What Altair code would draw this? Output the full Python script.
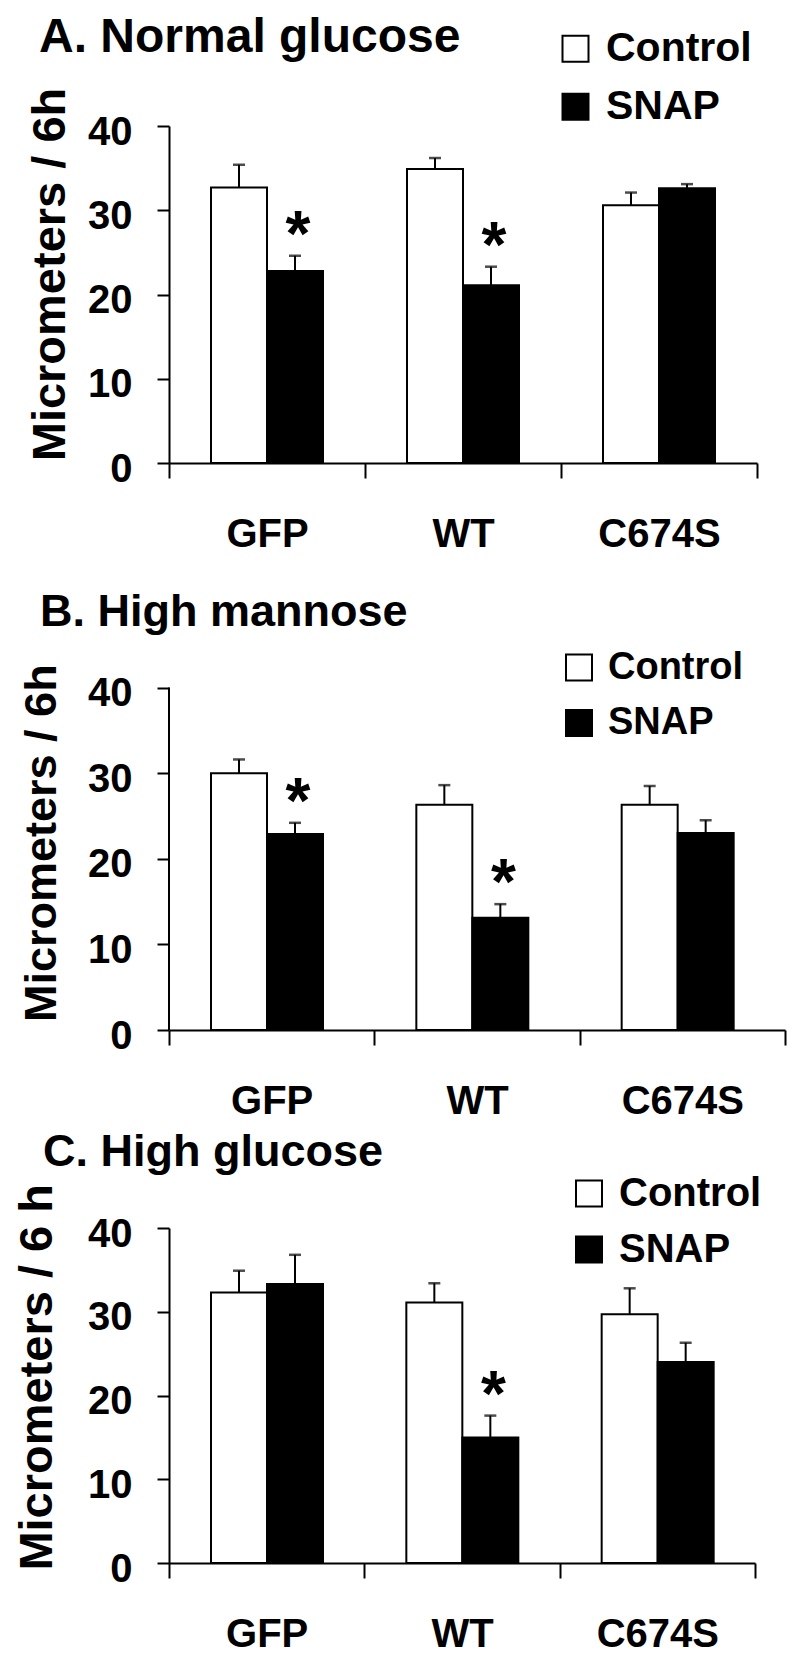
import altair as alt
import pandas as pd

FONT = "Liberation Sans"

groups = ["GFP", "WT", "C674S"]
treatments = ["Control", "SNAP"]
y_ticks = [0, 10, 20, 30, 40]

# Panel A: Normal glucose
a_control = [32.7, 34.9, 30.6]
a_control_err = [2.7, 1.3, 1.5]
a_snap = [22.8, 21.1, 32.6]
a_snap_err = [1.8, 2.2, 0.5]
a_star = ["GFP", "WT"]

# Panel B: High mannose
b_control = [30.0, 26.3, 26.3]
b_control_err = [1.6, 2.3, 2.2]
b_snap = [22.9, 13.1, 23.0]
b_snap_err = [1.3, 1.6, 1.5]
b_star = ["GFP", "WT"]

# Panel C: High glucose
c_control = [32.3, 31.1, 29.7]
c_control_err = [2.6, 2.3, 3.1]
c_snap = [33.3, 15.0, 24.0]
c_snap_err = [3.5, 2.6, 2.3]
c_star = ["WT"]


def panel(title, ytitle, ctrl, ctrl_err, snap, snap_err, stars,
          width, height, ymax, title_size, title_x, title_y,
          ytitle_size, ytitle_x, ytitle_y,
          leg_size, leg_x, leg_y, leg_pad, draw_yline):
    rows = []
    for g, m, e in zip(groups, ctrl, ctrl_err):
        rows.append({"group": g, "treatment": "Control", "mean": m, "hi": m + e})
    for g, m, e in zip(groups, snap, snap_err):
        rows.append({"group": g, "treatment": "SNAP", "mean": m, "hi": m + e})
    df = pd.DataFrame(rows)
    star_df = df[(df["treatment"] == "SNAP") & (df["group"].isin(stars))]

    x = alt.X("group:N", sort=groups,
              scale=alt.Scale(paddingInner=0, paddingOuter=0),
              axis=alt.Axis(title=None, tickBand="extent", labelAngle=0,
                            labelFontSize=40, labelFont=FONT, labelFontWeight="bold",
                            labelColor="black", labelBaseline="alphabetic",
                            labelPadding=68, tickSize=15, tickWidth=2,
                            domainWidth=2, domainColor="black", tickColor="black"))
    xo = alt.XOffset("treatment:N", sort=treatments,
                     scale=alt.Scale(paddingOuter=0.75, paddingInner=0))
    yscale = alt.Scale(domain=[0, ymax], nice=False, zero=True)
    y = alt.Y("mean:Q", scale=yscale,
              axis=alt.Axis(values=y_ticks, title=ytitle, grid=False,
                            domain=not draw_yline, domainWidth=2, domainColor="black",
                            tickSize=12, tickWidth=2, tickColor="black",
                            labelFontSize=40, labelFont=FONT, labelFontWeight="bold",
                            labelColor="black", labelPadding=25, labelOffset=6,
                            titleFont=FONT, titleFontSize=ytitle_size,
                            titleFontWeight="bold", titleColor="black",
                            titleAngle=270, titleAlign="center",
                            titleBaseline="alphabetic",
                            titleX=ytitle_x, titleY=ytitle_y))

    bars = alt.Chart(df).mark_bar(stroke="black", strokeWidth=2).encode(
        x=x, xOffset=xo, y=y,
        fill=alt.Fill("treatment:N",
                      scale=alt.Scale(domain=treatments, range=["white", "black"]),
                      legend=alt.Legend(title=None, orient="none",
                                        legendX=leg_x, legendY=leg_y,
                                        symbolType="square", symbolSize=676,
                                        symbolStrokeColor="black", symbolStrokeWidth=2,
                                        labelFont=FONT, labelFontWeight="bold",
                                        labelFontSize=leg_size, labelColor="black",
                                        labelOffset=10, rowPadding=leg_pad,
                                        padding=0, direction="vertical")),
    )
    stems = alt.Chart(df).mark_rule(color="black", strokeWidth=2).encode(
        x=x, xOffset=xo, y=alt.Y("mean:Q", scale=yscale), y2="hi:Q")
    caps = alt.Chart(df).mark_tick(color="black", size=12, thickness=2.5).encode(
        x=x, xOffset=xo, y=alt.Y("hi:Q", scale=yscale))
    star_marks = alt.Chart(star_df).mark_text(
        text="*", fontSize=64, font=FONT, fontWeight="bold",
        baseline="alphabetic", dx=3, color="black").encode(
        x=x, xOffset=xo, y=alt.Y("hi:Q", scale=yscale))
    title_mark = alt.Chart(pd.DataFrame({"t": [title]})).mark_text(
        align="left", baseline="alphabetic", fontSize=title_size, font=FONT,
        fontWeight="bold", color="black").encode(
        text="t:N", x=alt.value(title_x), y=alt.value(title_y))

    layers = [bars, stems, caps, star_marks, title_mark]
    if draw_yline:
        yline = alt.Chart(pd.DataFrame({"y0": [0], "y1": [40]})).mark_rule(
            color="black", strokeWidth=2).encode(
            x=alt.value(0), y=alt.Y("y0:Q", scale=yscale), y2="y1:Q")
        layers.append(yline)
    return alt.layer(*layers).properties(width=width, height=height)


pa = panel("A. Normal glucose", "Micrometers / 6h", a_control, a_control_err,
           a_snap, a_snap_err, a_star, 588, 337, 40, 48, -130, -74,
           47, -105, 148, 41, 386, -97.7, 16, False)
pb = panel("B. High mannose", "Micrometers / 6h", b_control, b_control_err,
           b_snap, b_snap_err, b_star, 616, 369, 43.1, 45, -129, -34.6,
           45, -114, 181.7, 38, 391, -12.5, 17.5, True)
pc = panel("C. High glucose", "Micrometers / 6 h", c_control, c_control_err,
           c_snap, c_snap_err, c_star, 586, 335, 40, 45, -126, -61.7,
           47, -118, 148.8, 40, 400, -54.5, 16, False)

chart = alt.vconcat(pa, pb, pc, spacing=198, bounds="flush").properties(
    padding={"left": 4, "top": 6, "right": 5, "bottom": 2}
).configure_view(stroke=None).resolve_scale(fill="independent")

chart.save("out.html", embed_options={"renderer": "svg", "actions": False})
